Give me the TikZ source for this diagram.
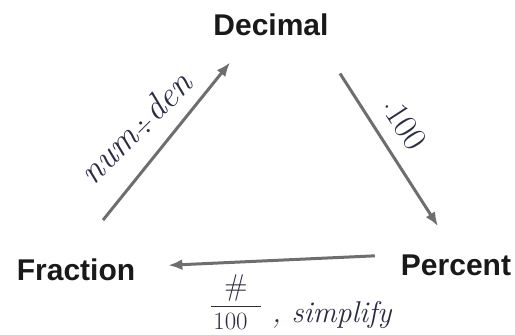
\documentclass[tikz,border=0pt]{standalone}
\usepackage{fontspec}
\usepackage{amsmath}
\setsansfont{Liberation Sans}
\usetikzlibrary{arrows.meta,calc}
\definecolor{ink}{HTML}{2B2B45}
\definecolor{arrowgray}{HTML}{6E6E6E}
\begin{document}
\begin{tikzpicture}[x=1pt,y=-1pt,
  term/.style={font=\sffamily\bfseries\fontsize{30}{36}\selectfont, text=black!90, inner sep=0pt},
  hand/.style={font=\itshape\fontsize{30}{36}\selectfont, text=ink, inner sep=0pt},
  conv/.style={draw=arrowgray, line width=3pt, -{Latex[length=14pt,width=11pt]}}]
\useasboundingbox (0,0) rectangle (515,335);
\node[term, anchor=base] (D) at (271,35) {Decimal};
\node[term, anchor=base] (F) at (76,280) {Fraction};
\node[term, anchor=base] (P) at (456,275) {Percent};
\coordinate (fd1) at ([shift={(27,-38)}]F.north);
\coordinate (fd2) at ([shift={(-41,27)}]D.south);
\coordinate (dp1) at ([shift={(69,38)}]D.south);
\coordinate (dp2) at ([shift={(-18,-28)}]P.north);
\coordinate (pf1) at ([shift={(-26,-9)}]P.west);
\coordinate (pf2) at ([shift={(33,-4)}]F.east);
\draw[conv] (fd1) -- (fd2);
\draw[conv] (dp1) -- (dp2);
\draw[conv] (pf1) -- (pf2);
\node[hand, rotate=45, font=\itshape\fontsize{36}{40}\selectfont] (l1) at (136,128) {num\kern1pt$\div$\kern1pt den};
\node[hand, rotate=-57, font=\fontsize{34}{40}\selectfont] (l2) at (404,124) {$\cdot$\kern1pt 100};
\node[hand] (l3) at (236,302) {$\dfrac{\#}{\mkern2mu 100\mkern10mu}$};
\node[hand, anchor=base west] (l4) at (272,322) {, simplify};
\end{tikzpicture}
\end{document}
